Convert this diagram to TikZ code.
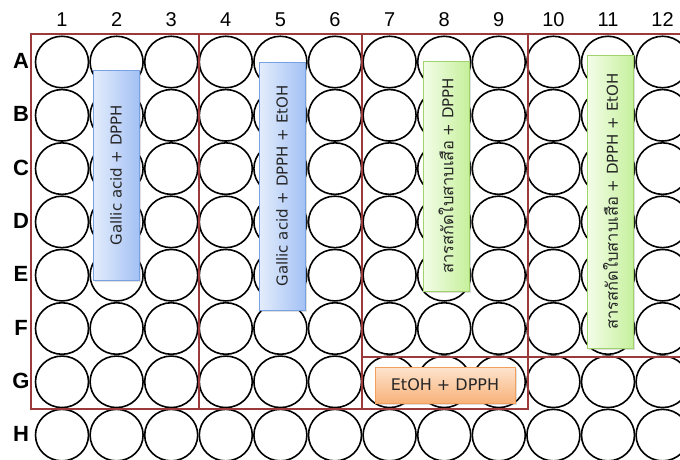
\documentclass[tikz,border=0pt]{standalone}
\usepackage{fontspec}
\newfontfamily\labelfont{Liberation Sans}
\newfontfamily\boxfont{DejaVu Sans}
\newfontfamily\thaifont[Script=Thai,Scale=1.1]{Loma}
\usetikzlibrary{shapes.geometric,shadows}

\definecolor{wallred}{HTML}{9B3A3A}
\definecolor{blueL}{HTML}{E4EDFC}
\definecolor{blueR}{HTML}{A3C1F4}
\definecolor{blueB}{HTML}{78A0E4}
\definecolor{greenL}{HTML}{F3FDE8}
\definecolor{greenR}{HTML}{C6F09C}
\definecolor{greenB}{HTML}{A0D46A}
\definecolor{orangeT}{HTML}{FDE4CE}
\definecolor{orangeD}{HTML}{F8B27A}
\definecolor{orangeB}{HTML}{F2A05E}

\begin{document}
\begin{tikzpicture}[
    x=1pt, y=-1pt,
    well/.style={ellipse, draw=black, line width=1.6pt, minimum width=53pt, minimum height=51.5pt, inner sep=0pt},
    collabel/.style={font=\labelfont\fontsize{20}{20}\selectfont},
    rowlabel/.style={font=\labelfont\bfseries\fontsize{22}{22}\selectfont},
    group/.style={draw=wallred, line width=1.8pt},
    sample/.style={inner sep=0pt, text=black!85, font=\boxfont\fontsize{15}{15}\selectfont,
      drop shadow={shadow xshift=1.5pt, shadow yshift=-1.5pt, opacity=0.25}},
    bluebox/.style={sample, rotate=90, minimum height=46pt, draw=blueB, line width=0.8pt, left color=blueL, right color=blueR},
    greenbox/.style={sample, rotate=90, minimum height=46pt, draw=greenB, line width=0.8pt, left color=greenL, right color=greenR},
    orangebox/.style={sample, font=\boxfont\fontsize{16}{16}\selectfont, draw=orangeB, line width=0.8pt, top color=orangeT, bottom color=orangeD},
  ]
  \def\dx{54.6}
  \def\dy{53.3}

  \fill[white] (0,0) rectangle (680,459);
  \useasboundingbox (0,0) rectangle (680,459);

  % ========= PLATE =========
  \foreach \c in {1,...,12}
    \node[collabel] (col-\c) at (62+\c*\dx-\dx, 20) {\c};

  \foreach \r [count=\i from 0] in {A,B,C,D,E,F,G,H}{
    \node[rowlabel] (row-\r) at (21, 61+\i*\dy) {\r};
    \foreach \c in {1,...,12}
      \node[well] (w-\r\c) at (62+\c*\dx-\dx, 62+\i*\dy) {};
  }

  % ========= GROUPS =========
  \draw[group] (31,34) rectangle (199,409);
  \draw[group] (199,34) rectangle (362,409);
  \draw[group] (362,34) rectangle (528,357);
  \draw[group] (362,357) rectangle (528,409);
  \draw[group] (680,34) -| (528,357) -- (680,357);

  % ========= SAMPLES =========
  \node[bluebox, minimum width=210pt] (gallic) at (116,175) {Gallic acid + DPPH};
  \node[bluebox, minimum width=248pt] (gallic-etoh) at (282,186) {Gallic acid + DPPH + EtOH};
  \node[greenbox, minimum width=230pt] (extract) at (446,176) {{\thaifont สารสกัดใบสาบเสือ} + DPPH};
  \node[greenbox, minimum width=293pt] (extract-etoh) at (610.5,201.5) {{\thaifont สารสกัดใบสาบเสือ} + DPPH + EtOH};
  \node[orangebox, minimum width=140pt, minimum height=36pt] (blank) at (445,385) {EtOH + DPPH};
\end{tikzpicture}
\end{document}
